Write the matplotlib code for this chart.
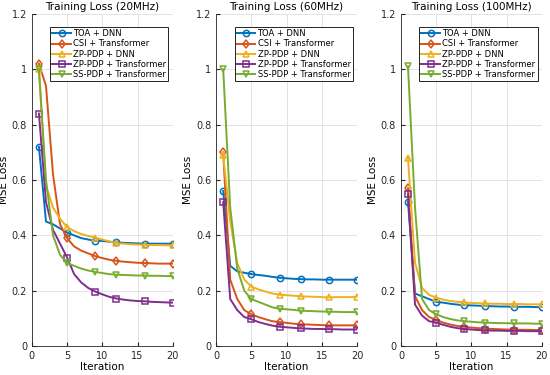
import matplotlib.pyplot as plt
import numpy as np

iters = np.arange(1, 21)
mark_idx = [0, 4, 8, 11, 15, 19]

labels = ['TOA + DNN', 'CSI + Transformer', 'ZP-PDP + DNN',
          'ZP-PDP + Transformer', 'SS-PDP + Transformer']
titles = ['Training Loss (20MHz)', 'Training Loss (60MHz)', 'Training Loss (100MHz)']

# 20 MHz
toa_20 = [0.72, 0.45, 0.44, 0.425, 0.41, 0.40, 0.39, 0.385, 0.38, 0.38,
          0.377, 0.375, 0.373, 0.372, 0.371, 0.37, 0.37, 0.37, 0.37, 0.37]
csi_20 = [1.02, 0.94, 0.62, 0.44, 0.39, 0.36, 0.345, 0.335, 0.325, 0.318,
          0.312, 0.308, 0.305, 0.303, 0.301, 0.30, 0.299, 0.298, 0.298, 0.298]
zpd_20 = [1.0, 0.58, 0.50, 0.46, 0.43, 0.415, 0.405, 0.398, 0.392, 0.385,
          0.378, 0.372, 0.37, 0.368, 0.367, 0.366, 0.365, 0.365, 0.364, 0.364]
zpt_20 = [0.84, 0.52, 0.42, 0.37, 0.32, 0.26, 0.23, 0.21, 0.197, 0.187,
          0.178, 0.172, 0.168, 0.165, 0.163, 0.162, 0.16, 0.159, 0.158, 0.157]
sst_20 = [1.0, 0.60, 0.40, 0.33, 0.30, 0.29, 0.28, 0.273, 0.268, 0.264,
          0.26, 0.258, 0.257, 0.256, 0.255, 0.255, 0.254, 0.254, 0.253, 0.253]

# 60 MHz
toa_60 = [0.56, 0.29, 0.27, 0.265, 0.26, 0.257, 0.254, 0.25, 0.247, 0.245,
          0.243, 0.242, 0.241, 0.241, 0.24, 0.24, 0.24, 0.24, 0.24, 0.24]
csi_60 = [0.70, 0.24, 0.17, 0.13, 0.115, 0.105, 0.097, 0.09, 0.087, 0.084,
          0.081, 0.079, 0.078, 0.077, 0.076, 0.075, 0.075, 0.075, 0.075, 0.075]
zpd_60 = [0.69, 0.45, 0.30, 0.24, 0.215, 0.205, 0.197, 0.19, 0.186, 0.184,
          0.182, 0.18, 0.179, 0.178, 0.177, 0.176, 0.177, 0.177, 0.177, 0.178]
zpt_60 = [0.52, 0.17, 0.13, 0.105, 0.097, 0.087, 0.08, 0.074, 0.07, 0.068,
          0.066, 0.064, 0.063, 0.062, 0.062, 0.061, 0.061, 0.06, 0.06, 0.06]
sst_60 = [1.0, 0.50, 0.28, 0.20, 0.17, 0.16, 0.15, 0.14, 0.135, 0.133,
          0.131, 0.128, 0.127, 0.126, 0.125, 0.124, 0.124, 0.123, 0.123, 0.123]

# 100 MHz
toa_100 = [0.52, 0.19, 0.18, 0.17, 0.16, 0.157, 0.153, 0.15, 0.148, 0.147,
           0.146, 0.145, 0.144, 0.143, 0.143, 0.142, 0.142, 0.142, 0.141, 0.141]
csi_100 = [0.57, 0.18, 0.13, 0.105, 0.095, 0.085, 0.078, 0.073, 0.07, 0.067,
           0.065, 0.063, 0.062, 0.061, 0.06, 0.06, 0.059, 0.059, 0.058, 0.058]
zpd_100 = [0.68, 0.30, 0.21, 0.185, 0.175, 0.168, 0.163, 0.16, 0.158, 0.156,
           0.155, 0.154, 0.153, 0.153, 0.152, 0.152, 0.152, 0.151, 0.151, 0.151]
zpt_100 = [0.55, 0.15, 0.11, 0.09, 0.085, 0.077, 0.07, 0.065, 0.062, 0.06,
           0.058, 0.057, 0.056, 0.056, 0.055, 0.055, 0.055, 0.054, 0.054, 0.054]
sst_100 = [1.01, 0.50, 0.17, 0.13, 0.115, 0.105, 0.098, 0.093, 0.09, 0.088,
           0.086, 0.085, 0.084, 0.083, 0.083, 0.082, 0.082, 0.082, 0.081, 0.081]

panels = [[toa_20, csi_20, zpd_20, zpt_20, sst_20],
          [toa_60, csi_60, zpd_60, zpt_60, sst_60],
          [toa_100, csi_100, zpd_100, zpt_100, sst_100]]

colors = ['#0072BD', '#D95319', '#EDB120', '#7E2F8E', '#77AC30']
markers = ['o', 'd', '^', 's', 'v']

fig = plt.figure(figsize=(5.5, 3.75), dpi=100)
lefts = [0.058, 0.393, 0.729]

for p in range(3):
    ax = fig.add_axes([lefts[p], 0.077, 0.256, 0.886])
    for s in range(5):
        ax.plot(iters, panels[p][s], color=colors[s], marker=markers[s],
                markevery=mark_idx, mfc='none', mew=1.1, ms=4.5, lw=1.4,
                label=labels[s])
    ax.set_xlim(0, 20)
    ax.set_ylim(0, 1.2)
    ax.set_xticks([0, 5, 10, 15, 20])
    ax.set_yticks([0, 0.2, 0.4, 0.6, 0.8, 1.0, 1.2])
    ax.set_yticklabels(['0', '0.2', '0.4', '0.6', '0.8', '1', '1.2'])
    ax.grid(True, color='#e3e3e3', lw=0.7)
    ax.set_axisbelow(True)
    ax.tick_params(direction='in', labelsize=7, colors='#262626', length=3)
    for sp in ['top', 'right']:
        ax.spines[sp].set_visible(False)
    for sp in ['left', 'bottom']:
        ax.spines[sp].set_color('#262626')
        ax.spines[sp].set_linewidth(0.6)
    ax.set_title(titles[p], fontsize=7.5, pad=3)
    ax.set_xlabel('Iteration', fontsize=7.5, labelpad=1)
    ax.set_ylabel('MSE Loss', fontsize=7.5, labelpad=2)
    leg = ax.legend(loc='upper right', bbox_to_anchor=(0.97, 0.96),
                    fontsize=6, handlelength=2.2, labelspacing=0.15,
                    borderpad=0.25, handletextpad=0.3, fancybox=False,
                    framealpha=1, borderaxespad=0)
    leg.get_frame().set_edgecolor('black')
    leg.get_frame().set_linewidth(0.6)

fig.savefig('out.png', dpi=100)
